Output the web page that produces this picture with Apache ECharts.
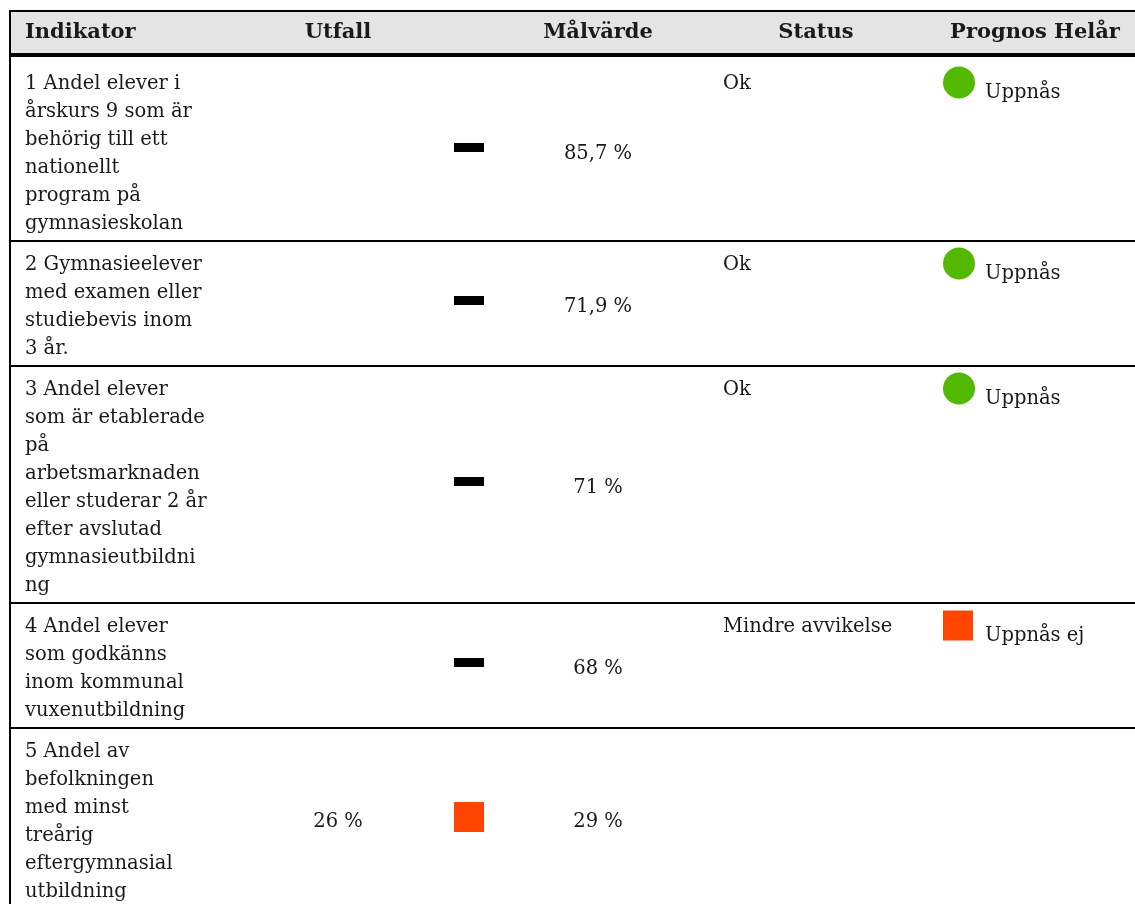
<!DOCTYPE html>
<html><head><meta charset="utf-8">
<script src="https://cdn.jsdelivr.net/npm/echarts@6/dist/echarts.min.js"></script>
<style>html,body{margin:0;padding:0;background:#fff}#c{width:1135px;height:904px}</style>
</head><body><div id="c"></div>
<script>
// ---- data ----
const headers = ['Indikator', 'Utfall', 'Målvärde', 'Status', 'Prognos Helår'];
const indicators = [
  ['1 Andel elever i', 'årskurs 9 som är', 'behörig till ett', 'nationellt', 'program på', 'gymnasieskolan'],
  ['2 Gymnasieelever', 'med examen eller', 'studiebevis inom', '3 år.'],
  ['3 Andel elever', 'som är etablerade', 'på', 'arbetsmarknaden', 'eller studerar 2 år', 'efter avslutad', 'gymnasieutbildni', 'ng'],
  ['4 Andel elever', 'som godkänns', 'inom kommunal', 'vuxenutbildning'],
  ['5 Andel av', 'befolkningen', 'med minst', 'treårig', 'eftergymnasial', 'utbildning']
];
const utfall = [null, null, null, null, 26];
const utfallIcon = ['dash', 'dash', 'dash', 'dash', 'red'];
const malvarde = [85.7, 71.9, 71, 68, 29];
const status = ['Ok', 'Ok', 'Ok', 'Mindre avvikelse', ''];
const prognos = ['Uppnås', 'Uppnås', 'Uppnås', 'Uppnås ej', ''];
const prognosIcon = ['green', 'green', 'green', 'red', null];

// ---- layout ----
const W = 1135, H = 904;
const FAM = '"DejaVu Serif", Georgia, serif';
const FS = 19.5, HFS = 21;
const LINE_H = 28, PAD = 13, BODY_TOP = 60;
const COL = { ind: 25, utfall: 338, utfallIcon: 469, mal: 598, status: 723, progIcon: 958, progText: 985 };
const HEAD_X = [25, 338, 598, 816, 1035];
const HEAD_ALIGN = ['left', 'center', 'center', 'center', 'center'];
const TXT = '#1a1a1a';
const GREEN = '#52b800', RED = '#ff4500';

const rowTops = [];
(function () { let y = BODY_TOP; indicators.forEach(l => { rowTops.push(y); y += l.length * LINE_H + PAD; }); })();
const fmt = v => String(v).replace('.', ',') + ' %';

function renderHeader(params, api) {
  const P = (x, y) => api.coord([x, y]);
  const ch = [];
  const a = P(10, 11), b = P(W, 53);
  ch.push({ type: 'rect', shape: { x: a[0], y: a[1], width: b[0] - a[0], height: b[1] - a[1] }, style: { fill: '#e4e4e4' } });
  const t0 = P(9, 11), t1 = P(W, 11);
  ch.push({ type: 'line', shape: { x1: t0[0], y1: t0[1], x2: t1[0], y2: t1[1] }, style: { stroke: '#000', lineWidth: 2 } });
  const k0 = P(9, 55), k1 = P(W, 55);
  ch.push({ type: 'line', shape: { x1: k0[0], y1: k0[1], x2: k1[0], y2: k1[1] }, style: { stroke: '#000', lineWidth: 4 } });
  const l0 = P(10, 10), l1 = P(10, H);
  ch.push({ type: 'line', shape: { x1: l0[0], y1: l0[1], x2: l1[0], y2: l1[1] }, style: { stroke: '#000', lineWidth: 2 } });
  headers.forEach((h, j) => {
    const p = P(HEAD_X[j], 33);
    ch.push({ type: 'text', style: { x: p[0], y: p[1], text: h, fill: TXT, fontFamily: FAM, fontSize: HFS, fontWeight: 'bold', align: HEAD_ALIGN[j], verticalAlign: 'middle' } });
  });
  return { type: 'group', children: ch };
}

function renderRow(params, api) {
  const i = api.value(0);
  const P = (x, y) => api.coord([x, y]);
  const top = rowTops[i], h = indicators[i].length * LINE_H + PAD, bottom = top + h, mid = top + h / 2;
  const ch = [];
  const base = { fill: TXT, fontFamily: FAM, fontSize: FS };
  let p = P(COL.ind, top + 10);
  ch.push({ type: 'text', style: Object.assign({ x: p[0], y: p[1], text: indicators[i].join('\n'), lineHeight: LINE_H, align: 'left', verticalAlign: 'top' }, base) });
  if (utfall[i] != null) {
    p = P(COL.utfall, mid + 3);
    ch.push({ type: 'text', style: Object.assign({ x: p[0], y: p[1], text: fmt(utfall[i]), align: 'center', verticalAlign: 'middle' }, base) });
  }
  if (utfallIcon[i] === 'dash') {
    const c = P(COL.utfallIcon, mid - 3);
    ch.push({ type: 'rect', shape: { x: c[0] - 15, y: c[1] - 4.5, width: 30, height: 9 }, style: { fill: '#000' } });
  } else if (utfallIcon[i] === 'red') {
    const c = P(COL.utfallIcon, mid - 1.5);
    ch.push({ type: 'rect', shape: { x: c[0] - 15, y: c[1] - 15, width: 30, height: 30 }, style: { fill: RED } });
  }
  p = P(COL.mal, mid + 3);
  ch.push({ type: 'text', style: Object.assign({ x: p[0], y: p[1], text: fmt(api.value(1)), align: 'center', verticalAlign: 'middle' }, base) });
  if (status[i]) {
    p = P(COL.status, top + 10);
    ch.push({ type: 'text', style: Object.assign({ x: p[0], y: p[1], text: status[i], lineHeight: LINE_H, align: 'left', verticalAlign: 'top' }, base) });
  }
  if (prognosIcon[i]) {
    const c = P(COL.progIcon, top + 22.5);
    if (prognosIcon[i] === 'green') ch.push({ type: 'circle', shape: { cx: c[0] + 1, cy: c[1], r: 16 }, style: { fill: GREEN } });
    else ch.push({ type: 'rect', shape: { x: c[0] - 15, y: c[1] - 15, width: 30, height: 30 }, style: { fill: RED } });
    p = P(COL.progText, top + 33);
    ch.push({ type: 'text', style: Object.assign({ x: p[0], y: p[1], text: prognos[i], align: 'left', verticalAlign: 'middle' }, base) });
  }
  const s0 = P(10, bottom), s1 = P(W, bottom);
  ch.push({ type: 'line', shape: { x1: s0[0], y1: s0[1], x2: s1[0], y2: s1[1] }, style: { stroke: '#000', lineWidth: 2 } });
  return { type: 'group', children: ch };
}

const chart = echarts.init(document.getElementById('c'), null, { renderer: 'canvas' });
chart.setOption({
  animation: false,
  backgroundColor: '#fff',
  grid: { left: 0, right: 0, top: 0, bottom: 0 },
  xAxis: { type: 'value', min: 0, max: W, show: false },
  yAxis: { type: 'value', min: 0, max: H, inverse: true, show: false },
  series: [
    { type: 'custom', clip: false, data: [[0, 0]], renderItem: renderHeader, silent: true },
    { type: 'custom', clip: false, data: indicators.map((_, i) => [i, malvarde[i]]), renderItem: renderRow, silent: true }
  ]
});
</script>
</body></html>
